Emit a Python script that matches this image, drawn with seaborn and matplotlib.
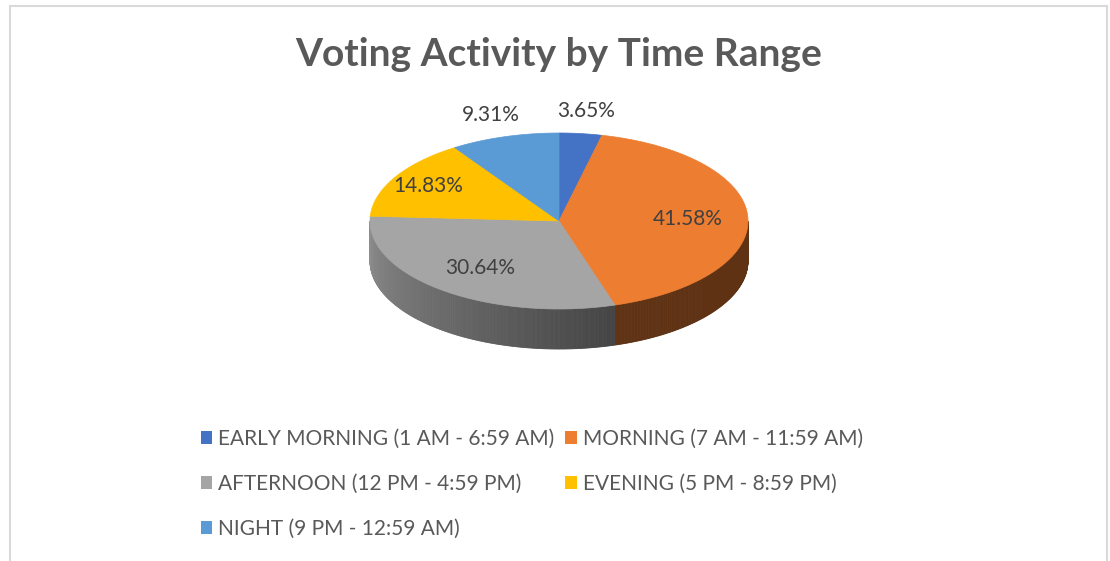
import matplotlib
matplotlib.use("Agg")
import matplotlib.pyplot as plt
import seaborn as sns
import numpy as np
from matplotlib.patches import Polygon, Rectangle
from matplotlib.colors import to_rgb

# data
categories = [
    "EARLY MORNING (1 AM - 6:59 AM)",
    "MORNING (7 AM - 11:59 AM)",
    "AFTERNOON (12 PM - 4:59 PM)",
    "EVENING (5 PM - 8:59 PM)",
    "NIGHT (9 PM - 12:59 AM)",
]
shares = [3.65, 41.58, 30.64, 14.83, 9.31]
labels = [f"{v:.2f}%" for v in shares]

palette = ["#4472C4", "#ED7D31", "#A5A5A5", "#FFC000", "#5B9BD5"]

sns.set_theme(style="white")
plt.rcParams["font.family"] = ["Lato", "DejaVu Sans"]

fig = plt.figure(figsize=(11.1, 5.61), dpi=100)
ax = fig.add_axes([0, 0, 1, 1])
ax.set_xlim(0, 1110)
ax.set_ylim(561, 0)
ax.axis("off")

# chart frame
fig.patches.append(Rectangle((10 / 1110, -0.05), 1097 / 1110, 1.04,
                             transform=fig.transFigure, fill=False,
                             edgecolor="#D9D9D9", linewidth=1.5))

# pie geometry (pixels)
cx, cy, ra, rb, depth = 559, 221, 189, 88, 40

vals = np.array(shares)
angles = vals / vals.sum() * 360
ends = 90 - np.cumsum(angles)
starts = ends + angles


def pt(theta, dy=0.0, r=1.0):
    t = np.radians(theta)
    return cx + r * ra * np.cos(t), cy - r * rb * np.sin(t) + dy


# side band of the front half
for s, e, col in zip(starts, ends, palette):
    base = np.array(to_rgb(col))
    lo, hi = max(e, -180), min(s, 0)
    if lo >= hi:
        continue
    th = np.linspace(hi, lo, int((hi - lo) * 2) + 2)
    for a, b in zip(th[:-1], th[1:]):
        deg = (-(a + b) / 2) % 360  # 0..180 along the front, right->left
        f = 0.40 + 0.46 * np.clip((deg - 70) / 110, 0, 1)
        c = np.clip(base * f, 0, 1)
        p = [pt(a), pt(b), pt(b, depth), pt(a, depth)]
        ax.add_patch(Polygon(p, closed=True, facecolor=c, edgecolor=c, linewidth=0.6))

# top surface
for s, e, col in zip(starts, ends, palette):
    th = np.linspace(s, e, 200)
    p = [(cx, cy)] + [pt(t) for t in th]
    ax.add_patch(Polygon(p, closed=True, facecolor=col, edgecolor=col, linewidth=0.5))

# data labels
for s, e, lab, v in zip(starts, ends, labels, shares):
    mid = (s + e) / 2
    r = 1.26 if v < 10 else (0.8 if v < 20 else 0.68)
    x, y = pt(mid, r=r)
    ax.text(x, y, lab, ha="center", va="center", fontsize=15, color="#404040")

ax.text(559, 54, "Voting Activity by Time Range", ha="center", va="center",
        fontsize=28, fontweight="bold", color="#595959")

# legend, row-major order in two columns
handles = [Rectangle((0, 0), 1, 1, facecolor=c, edgecolor="none") for c in palette]
order = [0, 2, 4, 1, 3]
leg = fig.legend([handles[i] for i in order], [categories[i] for i in order],
                 ncol=2, loc="upper left", bbox_to_anchor=(182 / 1110, 1 - 410 / 561),
                 frameon=False, fontsize=15, handlelength=0.55, handleheight=0.55,
                 handletextpad=0.3, columnspacing=0.5, labelspacing=1.2)
for t in leg.get_texts():
    t.set_color("#595959")

fig.savefig("out.png", dpi=100, facecolor="white")
